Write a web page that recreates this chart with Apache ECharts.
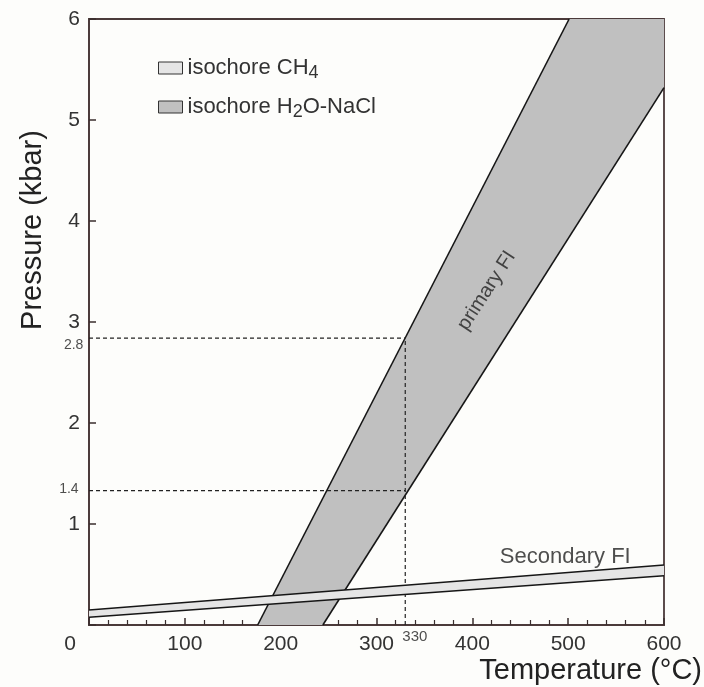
<!DOCTYPE html>
<html>
<head>
<meta charset="utf-8">
<script src="https://cdn.jsdelivr.net/npm/echarts@6/dist/echarts.min.js"></script>
<style>html,body{margin:0;padding:0;background:#fdfdfb;}#c{width:704px;height:687px;}</style>
</head>
<body>
<div id="c"></div>
<script>
// ---- data (T in °C, P in kbar) ----
const h2oLeft  = [[176, 0], [501, 6]];     // primary FI, low-T boundary
const h2oRight = [[244, 0], [600, 5.32]];  // primary FI, high-T boundary
const ch4Upper = [[0, 0.149], [600, 0.594]];
const ch4Lower = [[0, 0.076], [600, 0.488]];
const guideT = 330;
const guideP = [2.84, 1.33];
const guideLabels = ['2.8', '1.4'];
// annotation texts with their data-space anchors [T, P, text]
const annotations = [
  [497, 0.67, 'Secondary FI'],
  [415, 3.31, 'primary FI'],
  [340, -0.12, '330'],
  [-16, 2.77, '2.8'],
  [-21, 1.35, '1.4']
];
const seriesNames = ['isochore CH4', 'isochore H2O-NaCl'];

const chart = echarts.init(document.getElementById('c'));
const LINE = '#161616';
const DARK = '#c0c0c0';
const LIGHT = '#e5e5e5';
const FONT = 'Liberation Sans';

function polygonSeries(name, pts, fill) {
  return {
    type: 'custom', name: name, coordinateSystem: 'cartesian2d',
    data: [[pts[0][0], pts[0][1]]], silent: true,
    renderItem: function (params, api) {
      return { type: 'polygon', shape: { points: pts.map(p => api.coord(p)) },
               style: { fill: fill, stroke: null } };
    }
  };
}
function lineSeries(data) {
  return { type: 'line', data: data, symbol: 'none', silent: true,
           lineStyle: { color: LINE, width: 1.6 }, z: 3 };
}
function dashSeries(data) {
  return { type: 'line', data: data, symbol: 'none', silent: true,
           lineStyle: { color: '#222', width: 1.2, type: [4, 3] }, z: 2 };
}

const h2oPoly = [h2oLeft[0], h2oLeft[1], [600, 6], h2oRight[1], h2oRight[0]];
const ch4Poly = [ch4Lower[0], ch4Lower[1], ch4Upper[1], ch4Upper[0]];

const annStyle = {
  'Secondary FI': { fontSize: 22, rotate: 0 },
  'primary FI': { fontSize: 20, rotate: 57 },
  '330': { fontSize: 15, rotate: 0 },
  '2.8': { fontSize: 14, rotate: 0 },
  '1.4': { fontSize: 14, rotate: 0 }
};

chart.setOption({
  backgroundColor: '#fdfdfb',
  animation: false,
  grid: { left: 89, right: 40, top: 19, bottom: 62, show: true, outerBoundsMode: 'none',
          borderColor: '#4b3a3a', borderWidth: 1.8, backgroundColor: 'transparent' },
  legend: {
    orient: 'vertical', left: 153, top: 49, itemWidth: 24, itemHeight: 12, itemGap: 11,
    data: [
      { name: seriesNames[0], icon: 'rect', itemStyle: { color: LIGHT, borderColor: '#333', borderWidth: 1 } },
      { name: seriesNames[1], icon: 'rect', itemStyle: { color: DARK, borderColor: '#333', borderWidth: 1 } }
    ],
    formatter: function (n) {
      return n === seriesNames[0] ? '{t|isochore CH}{s|4}' : '{t|isochore H}{s|2}{t|O-NaCl}';
    },
    textStyle: { color: '#333', fontFamily: FONT, fontSize: 22,
      rich: { t: { fontSize: 22, color: '#333', fontFamily: FONT, lineHeight: 28, verticalAlign: 'middle' },
              s: { fontSize: 18, color: '#333', fontFamily: FONT, lineHeight: 28, verticalAlign: 'bottom', padding: [10, 0, 0, 0] } } }
  },
  xAxis: {
    type: 'value', min: 0, max: 600, interval: 100,
    splitLine: { show: false },
    axisLine: { lineStyle: { color: '#4b3a3a', width: 1.8 } },
    axisTick: { inside: true, length: 7, lineStyle: { color: '#3a2e2e', width: 1.5 } },
    minorTick: { show: true, splitNumber: 5, length: 5, lineStyle: { color: '#3a2e2e', width: 1.2 } },
    axisLabel: { fontSize: 21, color: '#333', fontFamily: FONT, margin: 9,
      formatter: function (v) { return v === 0 ? '{z|0}' : String(v); },
      rich: { z: { fontSize: 21, color: '#333', fontFamily: FONT, padding: [0, 38, 0, 0] } } },
    name: 'Temperature (°C)', nameLocation: 'end', nameGap: 38, nameMoveOverlap: false,
    nameTextStyle: { fontSize: 29, color: '#222', fontFamily: FONT, align: 'right', verticalAlign: 'top', padding: [31, 0, 0, 0] }
  },
  yAxis: {
    type: 'value', min: 0, max: 6, interval: 1,
    splitLine: { show: false },
    axisLine: { lineStyle: { color: '#4b3a3a', width: 1.8 } },
    axisTick: { inside: true, length: 7, lineStyle: { color: '#3a2e2e', width: 1.5 } },
    axisLabel: { fontSize: 21, color: '#333', fontFamily: FONT, margin: 9,
      formatter: function (v) { return v === 0 ? '' : String(v); } },
    name: 'Pressure (kbar)', nameLocation: 'middle', nameRotate: 90, nameGap: 42, nameMoveOverlap: false,
    nameTextStyle: { fontSize: 29, color: '#222', fontFamily: FONT, padding: [0, 0, 0, 184] }
  },
  series: [
    Object.assign(polygonSeries(seriesNames[1], h2oPoly, DARK), { z: 1 }),
    Object.assign(lineSeries(h2oLeft), { z: 2 }),
    Object.assign(lineSeries(h2oRight), { z: 2 }),
    Object.assign(polygonSeries(seriesNames[0], ch4Poly, LIGHT), { z: 4 }),
    Object.assign(lineSeries(ch4Upper), { z: 5 }),
    Object.assign(lineSeries(ch4Lower), { z: 5 }),
    dashSeries([[0, guideP[0]], [guideT, guideP[0]]]),
    dashSeries([[0, guideP[1]], [guideT, guideP[1]]]),
    dashSeries([[guideT, 0], [guideT, guideP[0]]]),
    {
      type: 'scatter', symbolSize: 0, clip: false, silent: true, z: 6,
      data: annotations.map(a => ({
        value: [a[0], a[1]],
        label: { show: true, position: 'inside', formatter: a[2],
                 fontSize: annStyle[a[2]].fontSize, rotate: annStyle[a[2]].rotate,
                 color: '#222', fontFamily: FONT }
      }))
    }
  ]
});
</script>
</body>
</html>
